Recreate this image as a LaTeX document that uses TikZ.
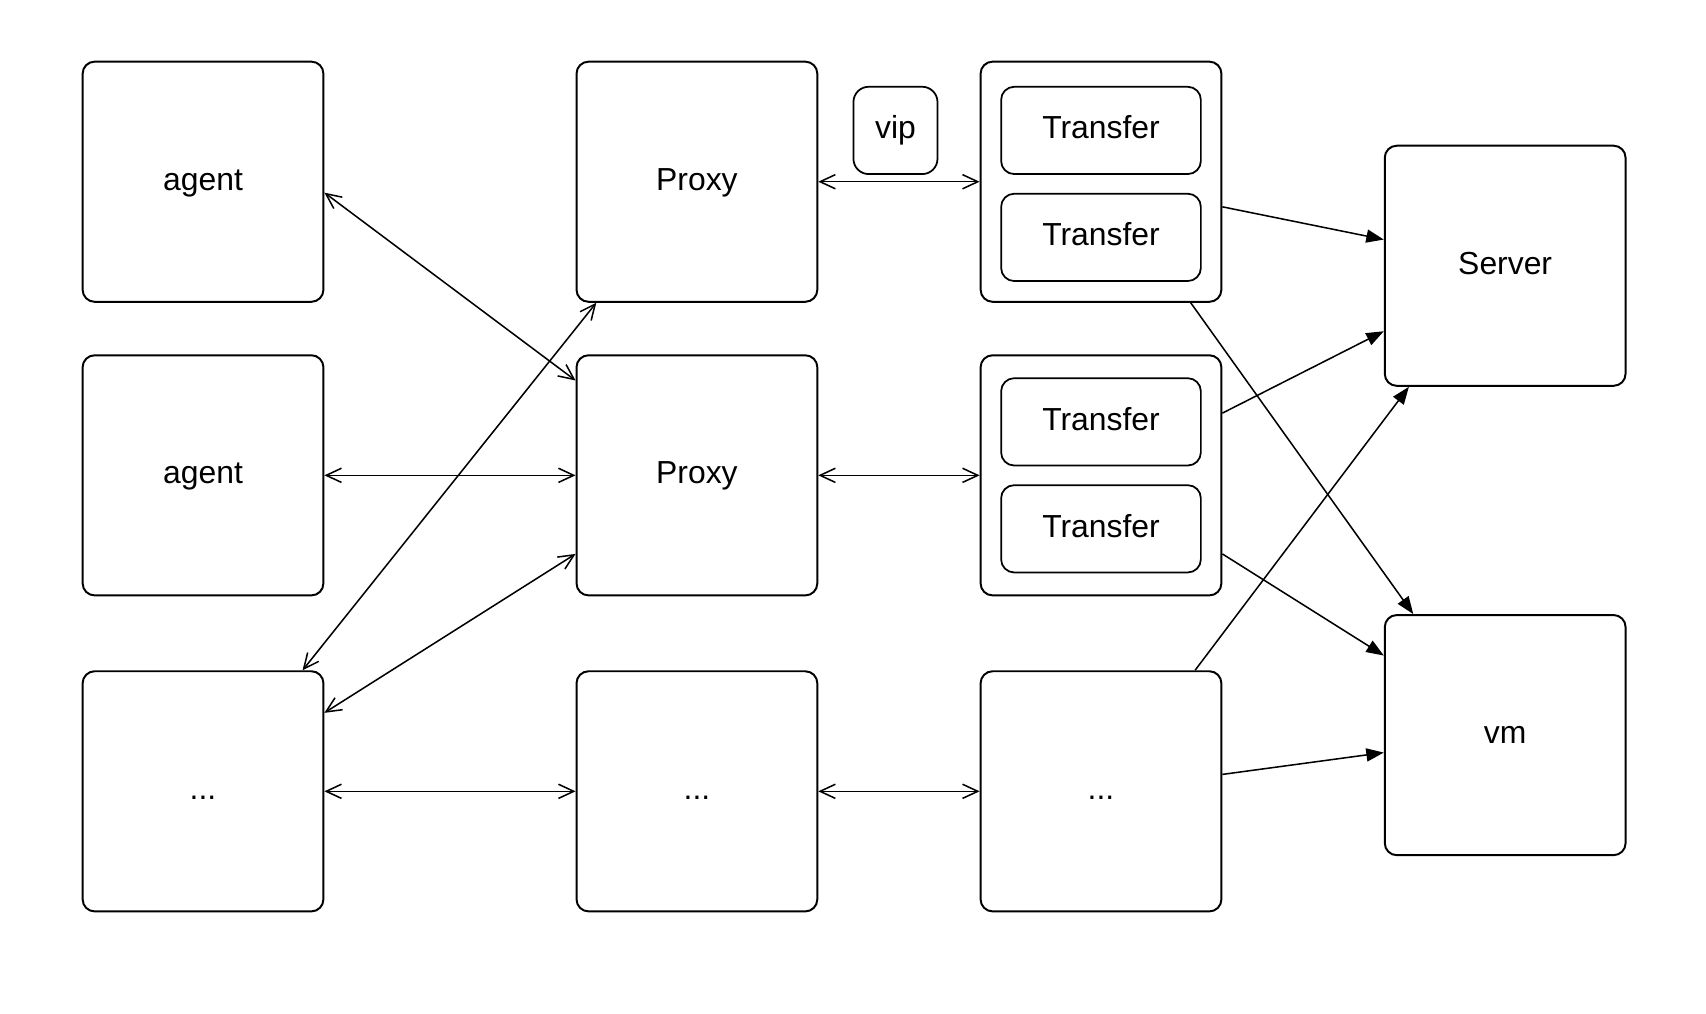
\documentclass[tikz,border=0pt]{standalone}
\usepackage{fontspec}
\setmainfont{Liberation Sans}
\usetikzlibrary{arrows.meta,calc}
\begin{document}
\begin{tikzpicture}[x=0.5pt,y=-0.5pt,
  lbl/.style={font=\fontsize{14.6}{17}\selectfont, text height=1.0em, text depth=0.232em, inner sep=0pt},
  bigbox/.style={lbl, draw, line width=0.9pt, rounded corners=5.5pt, minimum width=110.3pt, minimum height=110pt},
  subbox/.style={lbl, draw, line width=0.8pt, rounded corners=6pt, minimum width=91.5pt, minimum height=40pt},
  vipbox/.style={lbl, draw, line width=0.8pt, rounded corners=7pt, minimum width=38.5pt, minimum height=40pt},
  bi/.style={line width=0.7pt, {Straight Barb[length=7pt,width=6.5pt]}-{Straight Barb[length=7pt,width=6.5pt]}},
  one/.style={line width=0.7pt, -{Triangle[length=8pt,width=6pt]}}
]
\useasboundingbox (0,0) rectangle (1563,929);
% column 1
\node[bigbox] (a1) at (186,166.5) {agent};
\node[bigbox] (a2) at (186,435.5) {agent};
\node[bigbox] (d1) at (186,725) {...};
% column 2
\node[bigbox] (p1) at (638.5,166.5) {Proxy};
\node[bigbox] (p2) at (638.5,435.5) {Proxy};
\node[bigbox] (d2) at (638.5,725) {...};
% column 3
\node[bigbox] (t1) at (1008.7,166.5) {};
\node[subbox] (t1a) at (1008.7,119.5) {Transfer};
\node[subbox] (t1b) at (1008.7,217.5) {Transfer};
\node[bigbox] (t2) at (1008.7,435.5) {};
\node[subbox] (t2a) at (1008.7,386.5) {Transfer};
\node[subbox] (t2b) at (1008.7,484.5) {Transfer};
\node[bigbox] (d3) at (1008.7,725) {...};
% vip
\node[vipbox] (vip) at (820.4,119.5) {vip};
% column 4
\node[bigbox] (s) at (1379,243.5) {Server};
\node[bigbox] (vm) at (1379,673.5) {vm};
% bidirectional connectors
\draw[bi] ($(a1.east)+(0,10)$) -- ($(p2.north west)+(0,24)$);
\draw[bi] ($(p1.south west)+(19,0)$) -- ($(d1.north east)+(-20,0)$);
\draw[bi] (a2.east) -- (p2.west);
\draw[bi] ($(p2.west)+(0,72)$) -- ($(d1.north east)+(0,39)$);
\draw[bi] (d1.east) -- (d2.west);
\draw[bi] (p1.east) -- (t1.west);
\draw[bi] (p2.east) -- (t2.west);
\draw[bi] (d2.east) -- (d3.west);
% directed connectors
\draw[one] ($(t1.east)+(0,23)$) -- ($(s.west)+(0,-24)$);
\draw[one] ($(t1.south east)+(-29,0)$) -- ($(vm.north west)+(27,0)$);
\draw[one] ($(t2.east)+(0,-57)$) -- ($(s.west)+(0,60)$);
\draw[one] ($(t2.east)+(0,72)$) -- ($(vm.north west)+(0,38)$);
\draw[one] ($(d3.north east)+(-25,0)$) -- ($(s.south west)+(23,0)$);
\draw[one] ($(d3.east)+(0,-15.5)$) -- ($(vm.west)+(0,16)$);
\end{tikzpicture}
\end{document}
